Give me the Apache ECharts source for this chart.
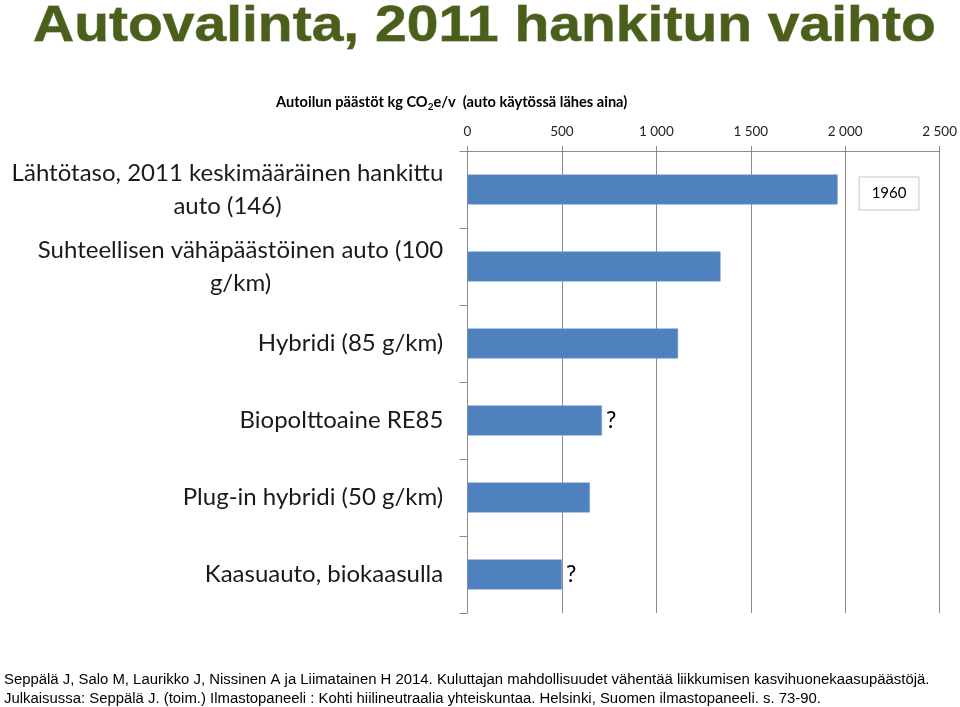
<!DOCTYPE html>
<html><head><meta charset="utf-8">
<script src="https://cdn.jsdelivr.net/npm/echarts@6/dist/echarts.min.js"></script>
<style>html,body{margin:0;padding:0;background:#fff}#c{width:960px;height:707px}</style>
</head><body><div id="c"></div>
<script>
const categories = [
  'Lähtötaso, 2011 keskimääräinen hankittu\nauto (146)',
  'Suhteellisen vähäpäästöinen auto (100\ng/km)',
  'Hybridi (85 g/km)',
  'Biopolttoaine RE85',
  'Plug-in hybridi (50 g/km)',
  'Kaasuauto, biokaasulla'
];
const values = [1960, 1340, 1115, 712, 648, 500];
const barLabels = ['1960', '', '', '?', '', '?'];
const xTicks = [0, 500, 1000, 1500, 2000, 2500];

const chart = echarts.init(document.getElementById('c'), null, {renderer: 'canvas'});
const FONT = 'Lato, "Open Sans", sans-serif';
const CAT_SIZE = 24;
const grid = '#8c8c8c';

// measure widths of each category's longest line to center wrapped lines
const mctx = document.createElement('canvas').getContext('2d');
mctx.font = CAT_SIZE + 'px ' + FONT;
const rich = {};
categories.forEach((c, i) => {
  const w = Math.max(...c.split('\n').map(l => mctx.measureText(l).width));
  rich['c' + i] = {width: Math.ceil(w), align: 'center', fontFamily: FONT, fontSize: CAT_SIZE,
    color: '#1a1a1a', lineHeight: 33};
});

const data = values.map((v, i) => {
  const t = barLabels[i];
  if (!t) return {value: v};
  if (t === '?') return {value: v, label: {show: true, position: 'right', distance: 4, formatter: t,
    fontFamily: FONT, fontSize: 23, color: '#000'}};
  return {value: v, label: {show: true, position: 'right', distance: 22, offset: [0, 4], formatter: t,
    fontFamily: FONT, fontSize: 15, color: '#000', backgroundColor: '#fff',
    borderColor: '#c8c8c8', borderWidth: 1, padding: [9, 12, 8, 12]}};
});

chart.setOption({
  animation: false,
  grid: {left: 467.5, right: 14.5, top: 151, bottom: 94, containLabel: false},
  xAxis: {
    type: 'value', position: 'top', min: 0, max: 2500, interval: 500,
    axisLine: {show: true, lineStyle: {color: grid}},
    axisTick: {show: true, length: 5, lineStyle: {color: grid}},
    splitLine: {show: true, lineStyle: {color: grid, width: 1}},
    axisLabel: {fontFamily: FONT, fontSize: 13.5, color: '#222', margin: 12,
      formatter: v => xTicks.includes(v) ? String(v).replace(/\B(?=(\d{3})+(?!\d))/g, ' ') : ''}
  },
  yAxis: {
    type: 'category', inverse: true, data: categories,
    axisLine: {show: true, lineStyle: {color: grid}},
    axisTick: {show: true, length: 8, lineStyle: {color: grid}},
    axisLabel: {fontFamily: FONT, fontSize: CAT_SIZE, color: '#1a1a1a', margin: 24, lineHeight: 33, align: 'right',
      formatter: (v, i) => v.split('\n').map(l => '{c' + i + '|' + l + '}').join('\n'),
      rich: rich}
  },
  series: [{
    type: 'bar', data: data, barWidth: 30,
    itemStyle: {color: '#4f81bd', borderColor: '#6f9ad0', borderWidth: 0.5}
  }],
  graphic: [
    {type: 'text', x: 33, y: 2, scaleX: 1.14, scaleY: 1, style: {
      text: 'Autovalinta, 2011 hankitun vaihto',
      font: 'bold 50px "Liberation Sans", Arial, sans-serif', fill: '#4a5f1c',
      stroke: '#8a9a68', lineWidth: 0.8, textVerticalAlign: 'top'}},
    {type: 'text', left: 276, top: 95, style: {
      text: '{a|Autoilun päästöt kg CO}{s|2}{a|e/v  (auto käytössä lähes aina)}',
      rich: {
        a: {fontFamily: FONT, fontWeight: 'bold', fontSize: 14.6, color: '#111'},
        s: {fontFamily: FONT, fontWeight: 'bold', fontSize: 10, color: '#111', padding: [8, 0, 0, 0]}
      }}},
    {type: 'text', left: 4, top: 672, style: {
      text: 'Seppälä J, Salo M, Laurikko J, Nissinen A ja Liimatainen H 2014. Kuluttajan mahdollisuudet vähentää liikkumisen kasvihuonekaasupäästöjä.',
      font: '14.9px "Liberation Sans", Arial, sans-serif', fill: '#000'}},
    {type: 'text', left: 4, top: 691, style: {
      text: 'Julkaisussa: Seppälä J. (toim.) Ilmastopaneeli : Kohti hiilineutraalia yhteiskuntaa. Helsinki, Suomen ilmastopaneeli. s. 73-90.',
      font: '14.9px "Liberation Sans", Arial, sans-serif', fill: '#000'}}
  ]
});
</script></body></html>
